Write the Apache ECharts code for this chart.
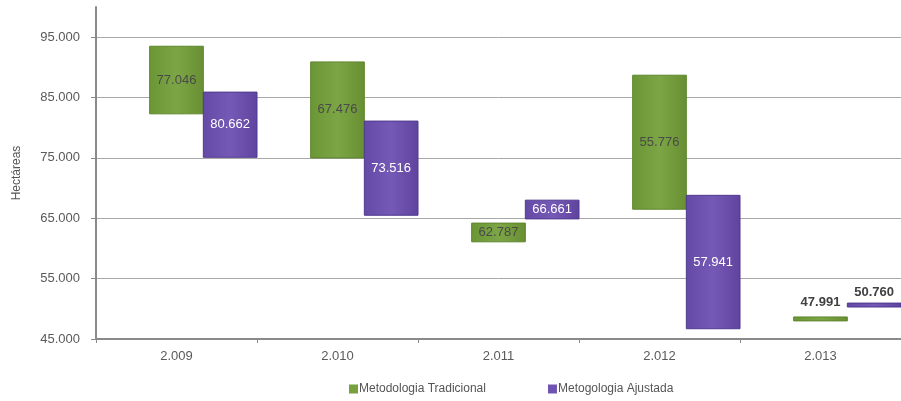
<!DOCTYPE html>
<html>
<head>
<meta charset="utf-8">
<script src="https://cdn.jsdelivr.net/npm/echarts@6/dist/echarts.min.js"></script>
<style>
  html, body { margin: 0; padding: 0; background: #ffffff; }
  #chart { width: 901px; height: 401px; }
</style>
</head>
<body>
<div id="chart"></div>
<script>
// Years on the category axis
const years = ['2.009', '2.010', '2.011', '2.012', '2.013'];

// Floating bar ranges (hectáreas): lower and upper ends
const tradLow  = [82300, 75000, 61100, 66500, 48000];
const tradHigh = [93500, 90900, 64200, 88700, 48650];
const ajusLow  = [75100, 65500, 64900, 46700, 50300];
const ajusHigh = [85900, 81100, 68000, 68800, 50950];

// Value labels printed on each bar
const tradLabels = ['77.046', '67.476', '62.787', '55.776', '47.991'];
const ajusLabels = ['80.662', '73.516', '66.661', '57.941', '50.760'];

// Y axis tick values
const yTicks = [45000, 55000, 65000, 75000, 85000, 95000];

const FONT = '"Liberation Sans", Arial, sans-serif';

function fmtThousands(v) {
  return String(v).replace(/\B(?=(\d{3})+(?!\d))/g, '.');
}

// Draws a range bar in one of three equal slots of the category band
function rangeBar(slot, fillStops, stroke, labels, labelColor) {
  return function (params, api) {
    const cat = api.value(0);
    const lo = api.value(1);
    const hi = api.value(2);
    const band = api.size([1, 0])[0];
    const w = band / 3;
    const pLo = api.coord([cat, lo]);
    const pHi = api.coord([cat, hi]);
    const x = pLo[0] - band / 2 + slot * w;
    const h = pLo[1] - pHi[1];
    const thin = h < 10;
    return {
      type: 'rect',
      shape: { x: x, y: pHi[1], width: w, height: h },
      style: {
        fill: new echarts.graphic.LinearGradient(0, 0, 1, 0, fillStops),
        stroke: stroke,
        lineWidth: 1
      },
      textContent: {
        style: {
          text: labels[params.dataIndex],
          fill: thin ? '#404040' : labelColor,
          font: (thin ? 'bold ' : '') + '13px ' + FONT
        }
      },
      textConfig: thin
        ? { position: 'top', distance: slot === 1 ? 8 : 4 }
        : { position: 'inside' }
    };
  };
}

const tradData = years.map((y, i) => [i, tradLow[i], tradHigh[i]]);
const ajusData = years.map((y, i) => [i, ajusLow[i], ajusHigh[i]]);

const GREEN = '#76a13e';
const PURPLE = '#7054b2';

const chart = echarts.init(document.getElementById('chart'), null, { renderer: 'canvas' });

chart.setOption({
  animation: false,
  backgroundColor: '#ffffff',
  textStyle: { fontFamily: FONT },
  grid: { left: 96, right: -1, top: 7, bottom: 62, containLabel: false },
  legend: {
    left: 344,
    top: 378,
    icon: 'rect',
    itemWidth: 9,
    itemHeight: 9,
    itemGap: 62,
    textStyle: { color: '#555555', fontSize: 12, fontFamily: FONT, padding: [0, 0, 0, -4] },
    data: ['Metodologia Tradicional', 'Metogologia Ajustada']
  },
  xAxis: {
    type: 'category',
    data: years,
    boundaryGap: true,
    axisLine: { lineStyle: { color: '#8a8a8a', width: 2 } },
    axisTick: { show: true, length: 4, lineStyle: { color: '#8a8a8a', width: 1 } },
    axisLabel: { color: '#5a5a5a', fontSize: 13, margin: 11, fontFamily: FONT },
    splitLine: { show: false }
  },
  yAxis: {
    type: 'value',
    min: 45000,
    max: 100000,
    interval: 10000,
    name: 'Hectáreas',
    nameLocation: 'middle',
    nameGap: 73,
    nameTextStyle: { color: '#555555', fontSize: 12, fontFamily: FONT },
    axisLine: { show: true, lineStyle: { color: '#8a8a8a', width: 2 } },
    axisTick: {
      show: true, length: 5, customValues: yTicks,
      lineStyle: { color: '#8a8a8a', width: 1 }
    },
    axisLabel: {
      color: '#5a5a5a', fontSize: 13, margin: 16, fontFamily: FONT,
      customValues: yTicks,
      formatter: v => fmtThousands(v)
    },
    splitLine: {
      show: true,
      lineStyle: {
        color: ['#a8a8a8', '#a8a8a8', '#a8a8a8', '#a8a8a8', '#a8a8a8', '#a8a8a8', 'rgba(0,0,0,0)'],
        width: 1
      }
    }
  },
  series: [
    {
      name: 'Metodologia Tradicional',
      type: 'custom',
      itemStyle: { color: GREEN },
      encode: { x: 0, y: [1, 2] },
      renderItem: rangeBar(1, [
        { offset: 0, color: '#6b9636' },
        { offset: 0.5, color: '#7ca645' },
        { offset: 1, color: '#688f33' }
      ], '#5e852c', tradLabels, '#4a4a4a'),
      data: tradData,
      z: 3
    },
    {
      name: 'Metogologia Ajustada',
      type: 'custom',
      itemStyle: { color: PURPLE },
      encode: { x: 0, y: [1, 2] },
      renderItem: rangeBar(2, [
        { offset: 0, color: '#644aa6' },
        { offset: 0.5, color: '#7559b6' },
        { offset: 1, color: '#5f439e' }
      ], '#4f3a8e', ajusLabels, '#ffffff'),
      data: ajusData,
      z: 3
    }
  ]
});
</script>
</body>
</html>
